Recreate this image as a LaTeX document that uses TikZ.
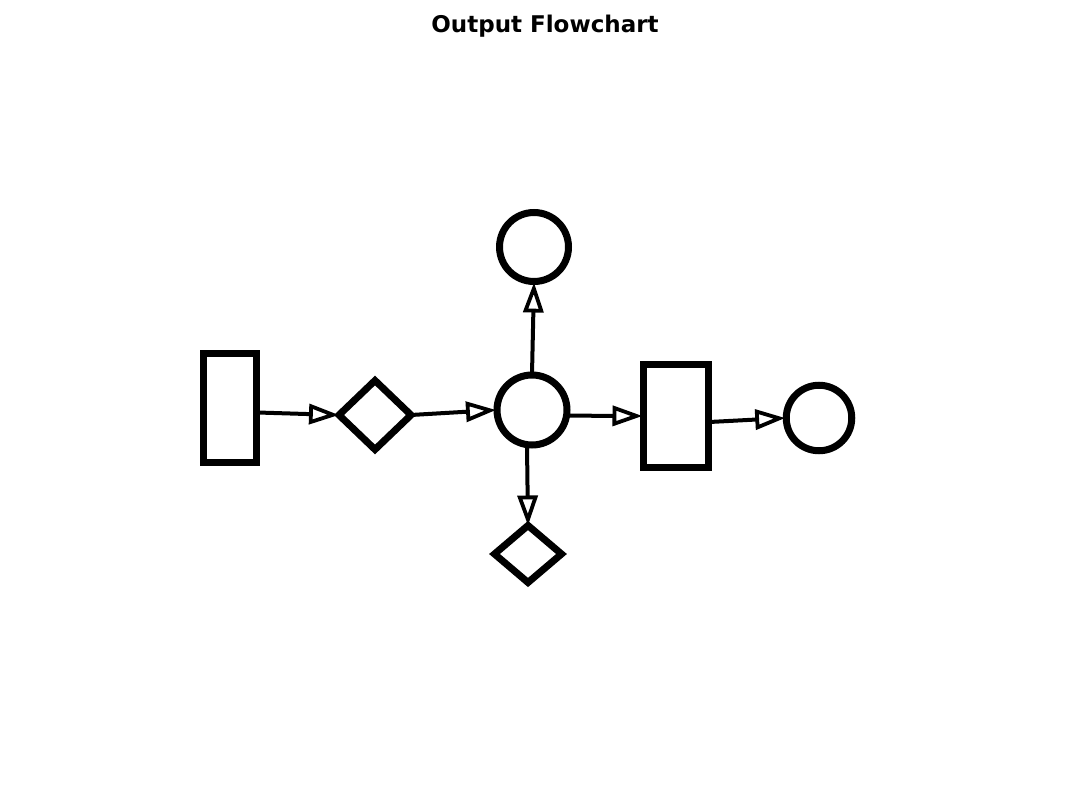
\documentclass[tikz,border=0pt]{standalone}
\usepackage{fontspec}
\setmainfont{DejaVu Sans}
\usetikzlibrary{shapes.geometric,arrows.meta}

\begin{document}
\begin{tikzpicture}[x=1pt, y=-1pt,
	box/.style={draw, line width=7pt, rectangle, inner sep=0pt, outer sep=1pt},
	test/.style={draw, line width=7pt, diamond, inner sep=0pt, outer sep=0pt},
	round/.style={draw, line width=7pt, circle, inner sep=0pt, outer sep=1pt},
	flow/.style={line width=4pt, -{Triangle[open, length=30pt, width=20pt, line width=3.8pt]}}]
	\useasboundingbox (0,0) rectangle (1092,794);
	% Title
	\node[anchor=base, font=\bfseries\fontsize{23}{27}\selectfont] at (545,33) (title) {Output Flowchart};
	% Define shapes
	\node[box, minimum width=53pt, minimum height=109pt] at (230,407.5) (start) {};
	\node[test, minimum width=72pt, minimum height=69pt] at (375,415) (check) {};
	\node[round, minimum size=70pt] at (532,410) (hub) {};
	\node[round, minimum size=69pt] at (534,247) (top) {};
	\node[test, minimum width=67pt, minimum height=57pt] at (528,554) (low) {};
	\node[box, minimum width=65pt, minimum height=103pt] at (676,416) (step2) {};
	\node[round, minimum size=65.5pt] at (819,418) (finish) {};
	% Draw connectors
	\draw[flow] ([yshift=-5pt]start.east) -- (check.west);
	\draw[flow] (check.east) -- (hub.west);
	\draw[flow] (hub.north) -- (top.south);
	\draw[flow] ([xshift=-5pt]hub.south) -- (low.north);
	\draw[flow] (hub.-9) -- (step2.west);
	\draw[flow] ([yshift=-6pt]step2.east) -- (finish.west);
\end{tikzpicture}
\end{document}
